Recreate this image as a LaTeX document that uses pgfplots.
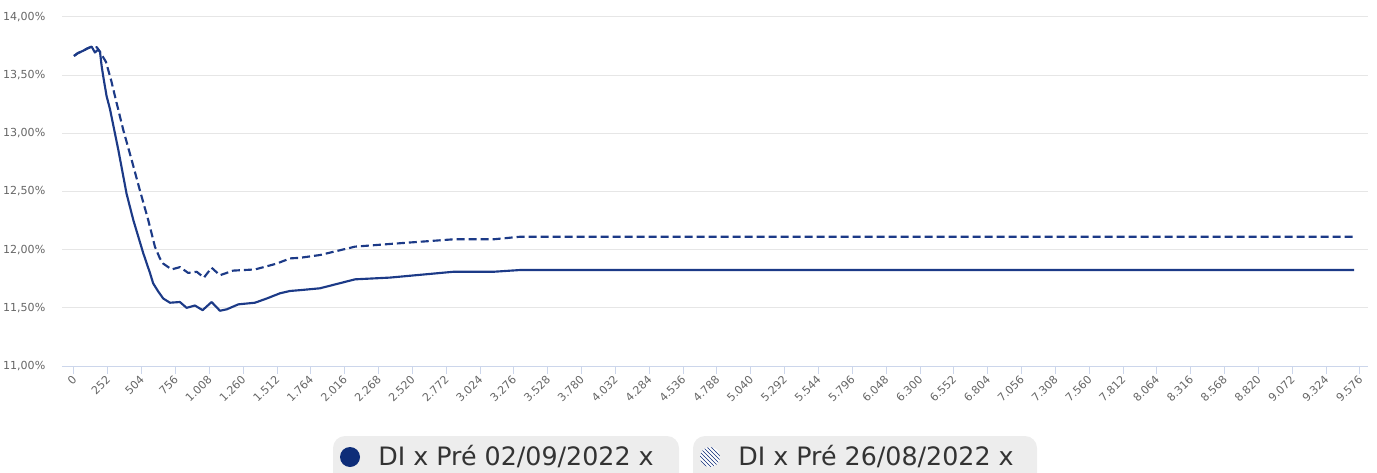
\documentclass[border=0pt]{standalone}
\usepackage{fontspec}
\setmainfont{DejaVu Sans}
\usepackage{pgfplots}
\pgfplotsset{compat=1.18}
\usetikzlibrary{patterns}
\definecolor{navy}{HTML}{1C3A87}
\definecolor{navyleg}{HTML}{0E2D78}
\definecolor{axisc}{HTML}{CCD6EB}
\definecolor{gridc}{HTML}{E6E6E6}
\definecolor{labc}{HTML}{666666}
\definecolor{legbg}{HTML}{EDEDED}
\definecolor{legtxt}{HTML}{333333}

\pgfplotstableread{
x y
0 13.665
30 13.69
69 13.71
100 13.73
132 13.745
156 13.695
181 13.72
194 13.70
206 13.58
218 13.49
243 13.32
268 13.21
330 12.86
392 12.48
442 12.255
516 11.97
566 11.80
590 11.71
628 11.64
665 11.58
715 11.544
789 11.55
839 11.50
901 11.52
958 11.48
1025 11.55
1087 11.475
1137 11.487
1224 11.53
1348 11.544
1435 11.58
1534 11.625
1609 11.645
1683 11.652
1832 11.668
2093 11.745
2353 11.76
2825 11.81
3123 11.81
3321 11.825
9532 11.825
}\solid

\pgfplotstableread{
x y
0 13.665
30 13.69
69 13.71
100 13.73
132 13.745
170 13.74
194 13.70
238 13.615
276 13.46
318 13.26
367 13.03
430 12.77
491 12.51
553 12.255
603 12.025
640 11.925
665 11.88
715 11.84
727 11.83
789 11.85
851 11.80
914 11.81
968 11.76
1025 11.845
1087 11.78
1186 11.82
1348 11.83
1509 11.88
1609 11.925
1683 11.93
1832 11.954
2093 12.026
2353 12.049
2825 12.089
3123 12.089
3321 12.111
9532 12.111
}\dashedd

\begin{document}
\begin{tikzpicture}
\useasboundingbox (0,0) rectangle (1032.75pt,354pt);
\begin{axis}[
  at={(46.5pt,79.5pt)}, anchor=south west,
  scale only axis, width=979.5pt, height=261.75pt,
  xmin=-89, xmax=9636, ymin=11, ymax=14,
  axis x line*=bottom, axis y line*=left,
  y axis line style={draw=none},
  x axis line style={draw=axisc, line width=0.75pt},
  ytick={11,11.5,12,12.5,13,13.5,14},
  yticklabels={{11,00\%},{11,50\%},{12,00\%},{12,50\%},{13,00\%},{13,50\%},{14,00\%}},
  ytick style={draw=none},
  xtick={0,252,...,9576},
  scaled x ticks=false,
  xticklabel style={rotate=45, anchor=east, xshift=2pt, yshift=-2pt},
  yticklabel style={anchor=east, xshift=-3pt},
  /pgf/number format/.cd, 1000 sep={.}, assume math mode=true,
  /pgfplots/.cd,
  tick align=outside, major tick length=6pt,
  xtick style={draw=axisc, line width=0.75pt},
  ticklabel style={font=\fontsize{8.3}{10}\selectfont, text=labc},
  ymajorgrids, grid style={draw=gridc, line width=0.75pt},
  clip=false,
]
\addplot[navy, line width=1.6pt, line join=round, dash pattern=on 6pt off 3pt] table[x=x,y=y] {\dashedd};
\addplot[navy, line width=1.6pt, line join=round] table[x=x,y=y] {\solid};
\end{axis}
\begin{scope}
\clip (0,0) rectangle (1032.75pt,354pt);
\fill[legbg, rounded corners=9pt] (249.75pt,-10pt) rectangle (509.25pt,27pt);
\fill[legbg, rounded corners=9pt] (519.75pt,-10pt) rectangle (777.75pt,27pt);
\fill[navyleg] (262.5pt,11.25pt) circle (7.5pt);
\fill[white] (532.5pt,11.25pt) circle (7.5pt);
\fill[pattern=north west lines, pattern color=navyleg] (532.5pt,11.25pt) circle (7.5pt);
\node[anchor=west, inner sep=0pt, text=legtxt, font=\fontsize{19}{21}\selectfont] at (283.5pt,11.25pt) {DI x Pré 02/09/2022 x};
\node[anchor=west, inner sep=0pt, text=legtxt, font=\fontsize{19}{21}\selectfont] at (553.5pt,11.25pt) {DI x Pré 26/08/2022 x};
\end{scope}
\end{tikzpicture}
\end{document}
